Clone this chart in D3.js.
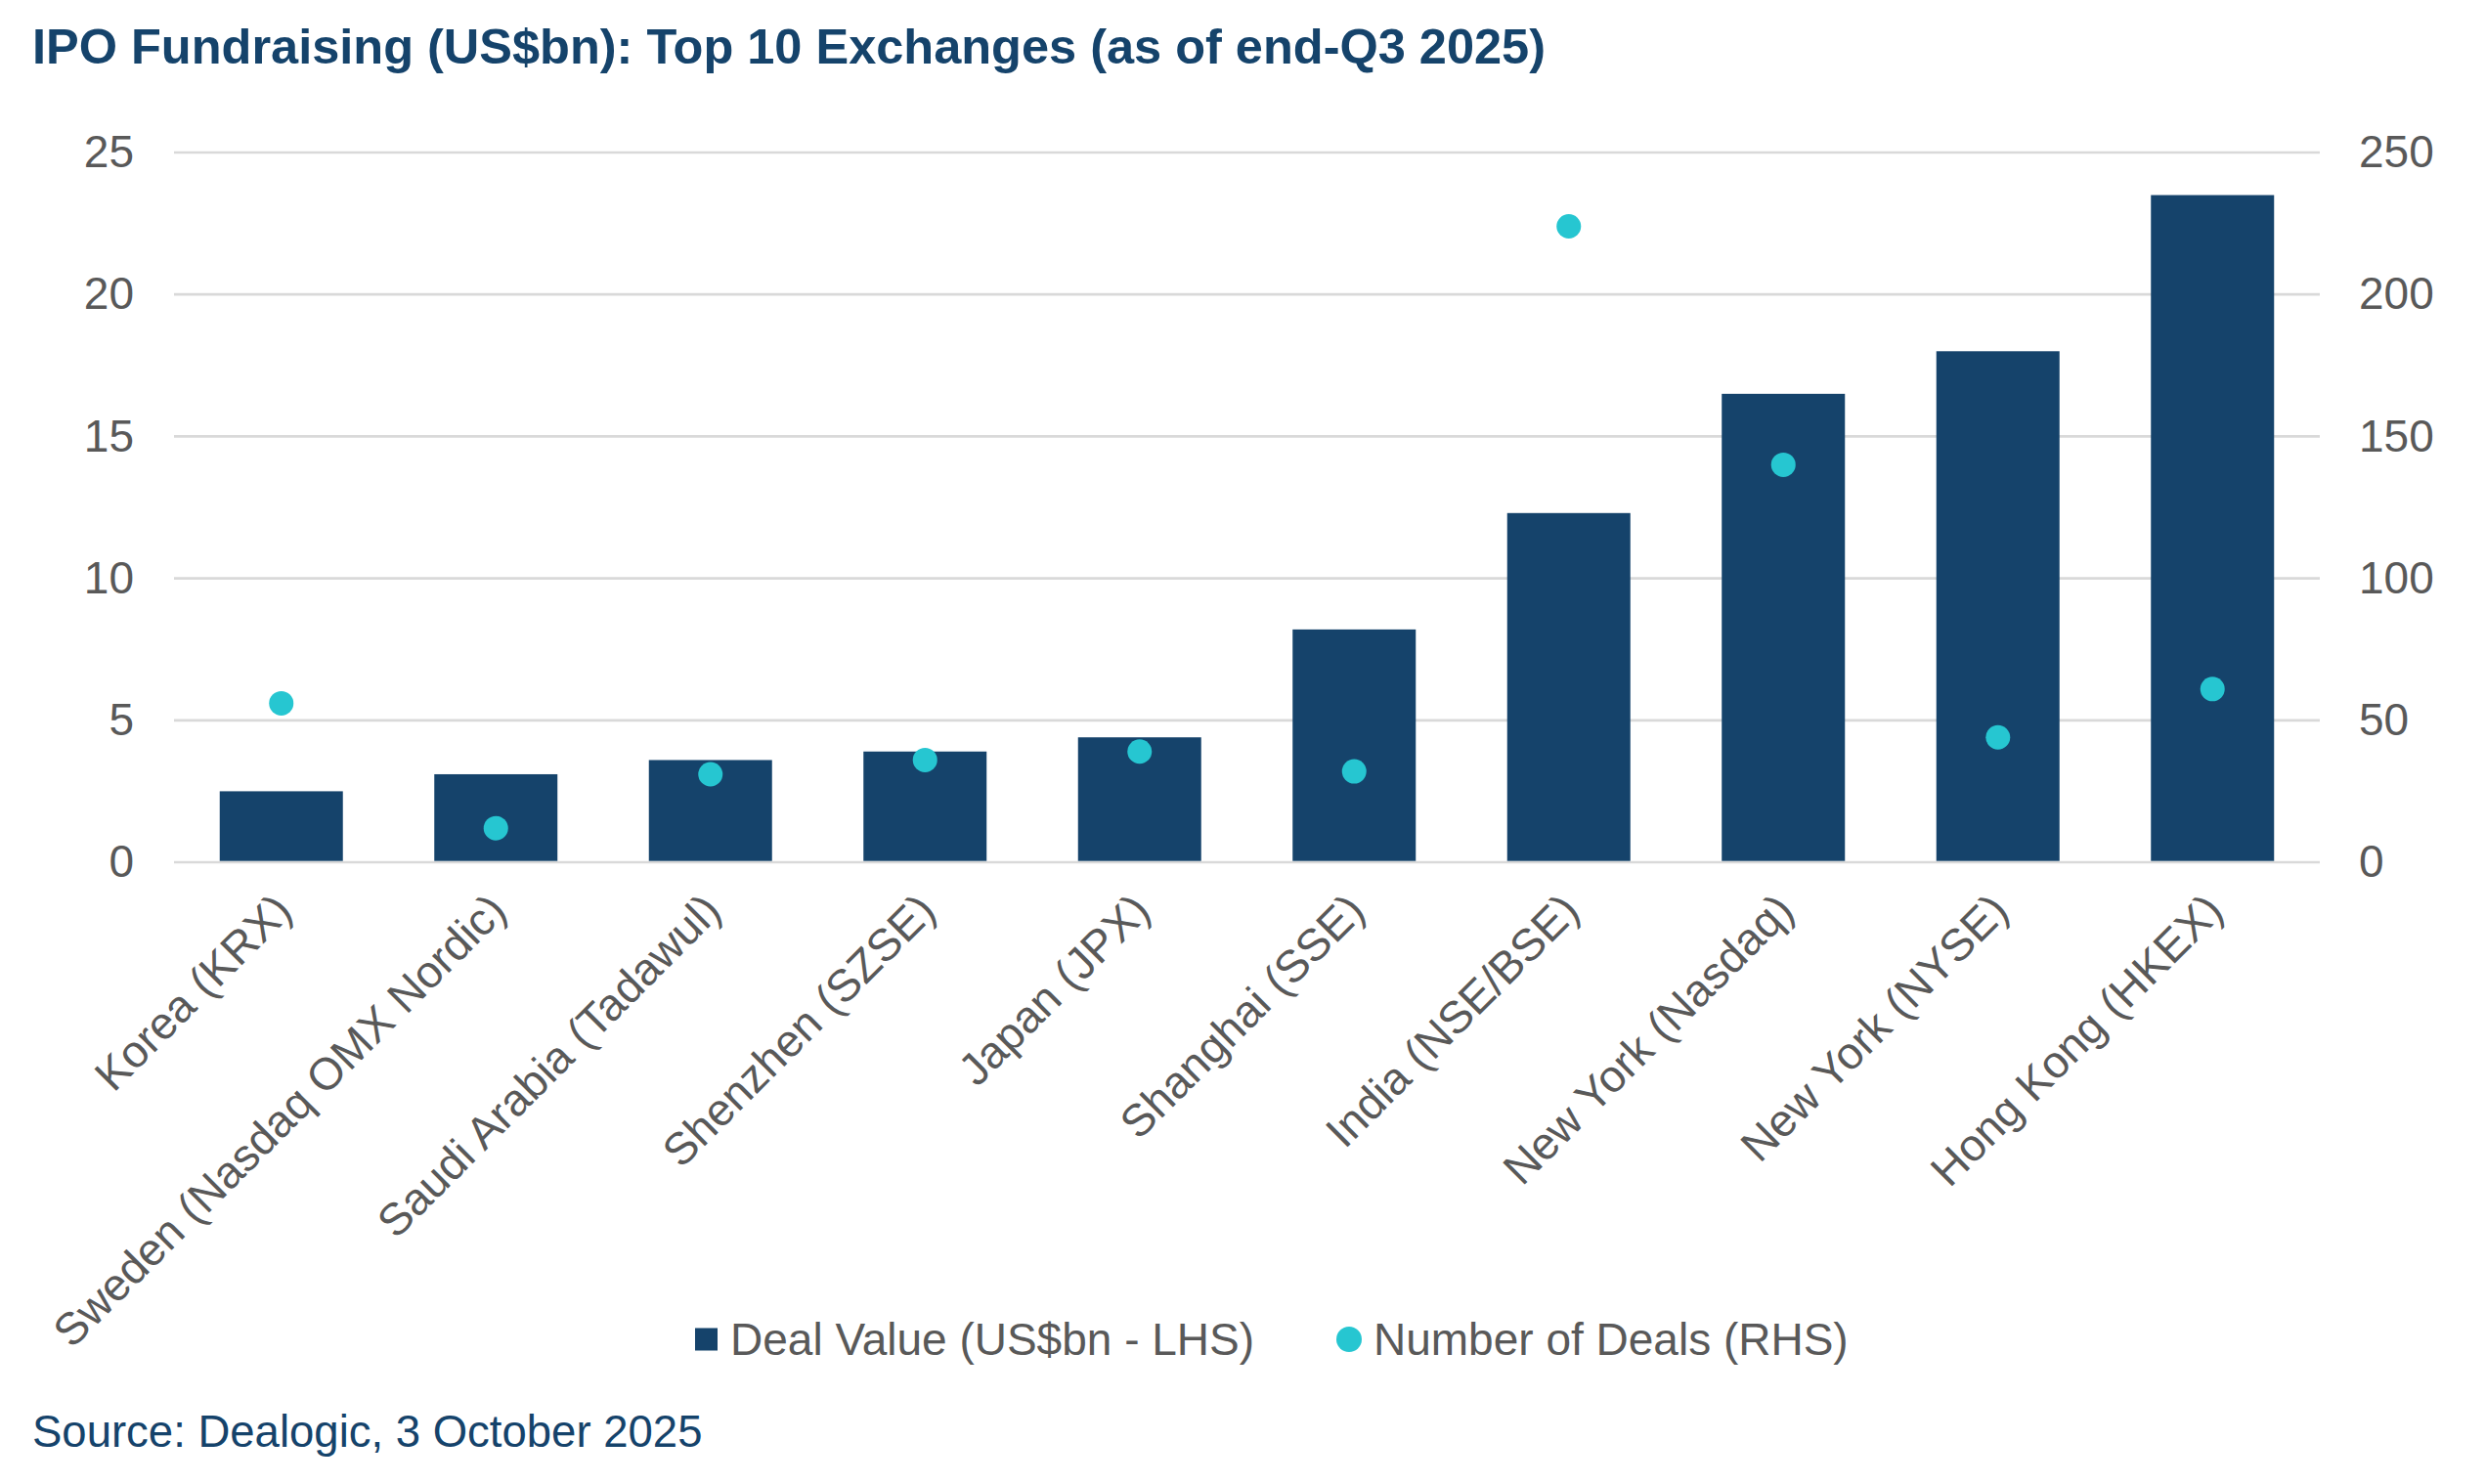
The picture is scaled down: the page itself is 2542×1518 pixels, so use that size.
<!DOCTYPE html>
<html>
<head>
<meta charset="utf-8">
<script src="https://cdn.jsdelivr.net/npm/d3@7"></script>
<style>
  body { margin: 0; background: #fff; }
  text { font-family: "Liberation Sans", Arial, sans-serif; }
</style>
</head>
<body>
<div id="chart"></div>
<script>
// data
var exchanges = ["Korea (KRX)", "Sweden (Nasdaq OMX Nordic)", "Saudi Arabia (Tadawul)", "Shenzhen (SZSE)",
  "Japan (JPX)", "Shanghai (SSE)", "India (NSE/BSE)", "New York (Nasdaq)", "New York (NYSE)", "Hong Kong (HKEX)"];
var dealValue = [2.5, 3.1, 3.6, 3.9, 4.4, 8.2, 12.3, 16.5, 18.0, 23.5];
var dealCount = [56, 12, 31, 36, 39, 32, 224, 140, 44, 61];
var leftTicks = [0, 5, 10, 15, 20, 25];
var rightTicks = [0, 50, 100, 150, 200, 250];

var width = 2542, height = 1518;
var margin = { top: 156, right: 169, bottom: 636, left: 178 };
var navy = "#15436b", teal = "#26c6d1", grey = "#595959";
var fs = "46px";

var svg = d3.select("#chart").append("svg")
  .attr("width", width)
  .attr("height", height);

var x = d3.scaleBand()
  .domain(exchanges)
  .range([margin.left, width - margin.right])
  .paddingInner(0.426)
  .paddingOuter(0.213);

var y = d3.scaleLinear().domain([0, 25]).range([height - margin.bottom, margin.top]);
var y2 = d3.scaleLinear().domain([0, 250]).range([height - margin.bottom, margin.top]);

// title
svg.append("text")
  .attr("x", 33)
  .attr("y", 65)
  .style("font-size", "50.5px")
  .style("font-weight", "bold")
  .style("fill", navy)
  .text("IPO Fundraising (US$bn): Top 10 Exchanges (as of end-Q3 2025)");

// gridlines
svg.append("g")
  .selectAll("line")
  .data(leftTicks)
  .enter()
  .append("line")
  .attr("x1", margin.left)
  .attr("x2", width - margin.right)
  .attr("y1", d => y(d))
  .attr("y2", d => y(d))
  .style("stroke", "#d9d9d9")
  .style("stroke-width", 2.7);

// left axis
var leftAxis = svg.append("g")
  .attr("transform", "translate(137,0)")
  .call(d3.axisLeft(y).tickValues(leftTicks).tickSize(0).tickPadding(0));
leftAxis.select(".domain").remove();
leftAxis.selectAll("text").style("font-size", fs).style("fill", grey).style("font-family", "Liberation Sans, Arial, sans-serif");

// right axis
var rightAxis = svg.append("g")
  .attr("transform", "translate(2413,0)")
  .call(d3.axisRight(y2).tickValues(rightTicks).tickSize(0).tickPadding(0));
rightAxis.select(".domain").remove();
rightAxis.selectAll("text").style("font-size", fs).style("fill", grey).style("font-family", "Liberation Sans, Arial, sans-serif");

// bars
svg.selectAll("rect.bar")
  .data(exchanges)
  .enter()
  .append("rect")
  .attr("class", "bar")
  .attr("x", d => x(d))
  .attr("width", x.bandwidth())
  .attr("y", (d, i) => y(dealValue[i]))
  .attr("height", (d, i) => y(0) - y(dealValue[i]) - 1.3)
  .style("fill", navy);

// deal count dots
svg.selectAll("circle.dot")
  .data(exchanges)
  .enter()
  .append("circle")
  .attr("class", "dot")
  .attr("cx", d => x(d) + x.bandwidth() / 2)
  .attr("cy", (d, i) => y2(dealCount[i]))
  .attr("r", 12.5)
  .style("fill", teal);

// category labels, rotated
svg.selectAll("text.cat")
  .data(exchanges)
  .enter()
  .append("text")
  .attr("class", "cat")
  .attr("transform", d => `translate(${x(d) + x.bandwidth() / 2 + 13},${y(0) + 52}) rotate(-45)`)
  .style("text-anchor", "end")
  .style("font-size", fs)
  .style("fill", grey)
  .text(d => d);

// legend
var legend = svg.append("g").attr("transform", "translate(0,1370)");
legend.append("rect")
  .attr("x", 711).attr("y", -11.5)
  .attr("width", 23).attr("height", 23)
  .style("fill", navy);
legend.append("text")
  .attr("x", 747).attr("y", 16)
  .style("font-size", fs).style("fill", grey)
  .text("Deal Value (US$bn - LHS)");
legend.append("circle")
  .attr("cx", 1380).attr("r", 13)
  .style("fill", teal);
legend.append("text")
  .attr("x", 1405).attr("y", 16)
  .style("font-size", fs).style("fill", grey)
  .text("Number of Deals (RHS)");

// source
svg.append("text")
  .attr("x", 33)
  .attr("y", 1480)
  .style("font-size", "45.5px")
  .style("fill", navy)
  .text("Source: Dealogic, 3 October 2025");
</script>
</body>
</html>
